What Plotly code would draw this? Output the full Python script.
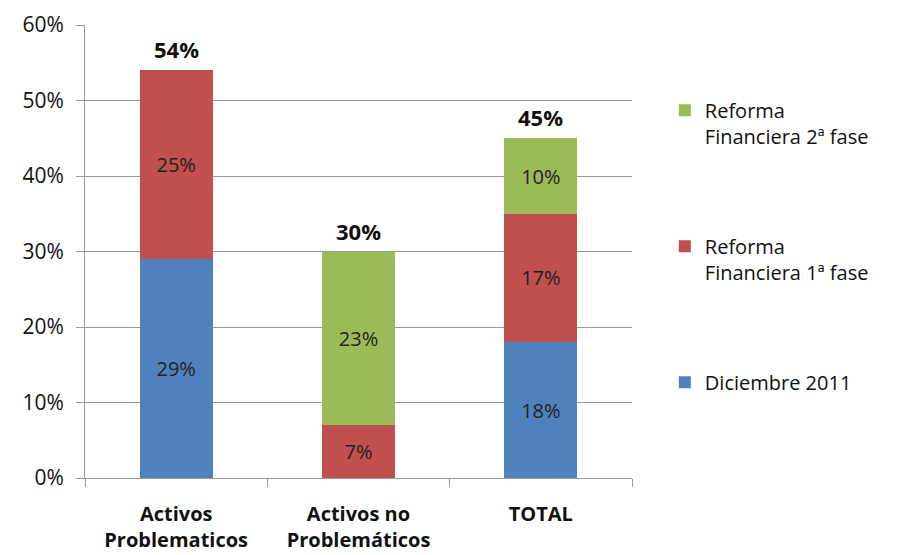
import plotly.graph_objects as go

categories = ["Activos<br>Problematicos", "Activos no<br>Problemáticos", "TOTAL"]
dic_2011 = [29, None, 18]
fase_1 = [25, 7, 17]
fase_2 = [None, 23, 10]
series_names = ["Diciembre 2011", "Reforma<br>Financiera 1ª fase", "Reforma<br>Financiera 2ª fase"]
colors = ["#4F81BD", "#C0504D", "#9BBB59"]
legend_ranks = [3, 2, 1]
y_ticks = [0, 10, 20, 30, 40, 50, 60]

totals = [sum(v for v in vals if v is not None) for vals in zip(dic_2011, fase_1, fase_2)]

FONT = "Open Sans"
fig = go.Figure()
for i, (name, vals, col, rk) in enumerate(zip(series_names, [dic_2011, fase_1, fase_2], colors, legend_ranks)):
    fig.add_trace(go.Bar(
        x=categories, y=vals, name=name, marker=dict(color=col, line=dict(width=0)),
        text=[f"{v}%" if v is not None else "" for v in vals],
        texttemplate="%{text}", textposition="inside", insidetextanchor="middle",
        textfont=dict(family=FONT, size=20, color="#222222"),
        legendgroup=f"g{i}", legendrank=rk, width=0.4, hoverinfo="skip",
    ))

for c, t in zip(categories, totals):
    fig.add_annotation(
        x=c, y=t, text=f"<b>{t}%</b>", showarrow=False, yanchor="bottom", yshift=4,
        font=dict(family=FONT, size=22, color="#111111"),
    )

fig.update_layout(
    barmode="stack",
    width=891, height=547,
    margin=dict(l=77, r=267, t=17, b=77, autoexpand=False),
    plot_bgcolor="white", paper_bgcolor="white",
    font=dict(family=FONT, size=20, color="#111111"),
    legend=dict(
        x=1.06, xanchor="left", y=0.855, yanchor="top",
        traceorder="grouped", tracegroupgap=81, valign="top",
        font=dict(family=FONT, size=20, color="#111111"), itemwidth=30,
        bgcolor="rgba(0,0,0,0)",
    ),
    showlegend=True,
)
fig.update_yaxes(
    range=[0, 60], tickvals=y_ticks, ticktext=[f"{v}%" for v in y_ticks],
    showgrid=True, gridcolor="#9a9a9a", gridwidth=1,
    showline=True, linecolor="#9a9a9a", linewidth=1,
    ticks="outside", ticklen=8, tickcolor="#9a9a9a",
    ticklabelstandoff=8, zeroline=False, automargin=False,
    tickfont=dict(family=FONT, size=21, color="#111111"),
)
fig.update_xaxes(
    showline=True, linecolor="#9a9a9a", linewidth=1,
    ticks="outside", ticklen=8, tickcolor="#9a9a9a", tickson="boundaries",
    ticklabelstandoff=18, automargin=False,
    tickfont=dict(family=FONT, size=20, color="#111111", weight="bold"),
)

fig.write_html("out.html")
